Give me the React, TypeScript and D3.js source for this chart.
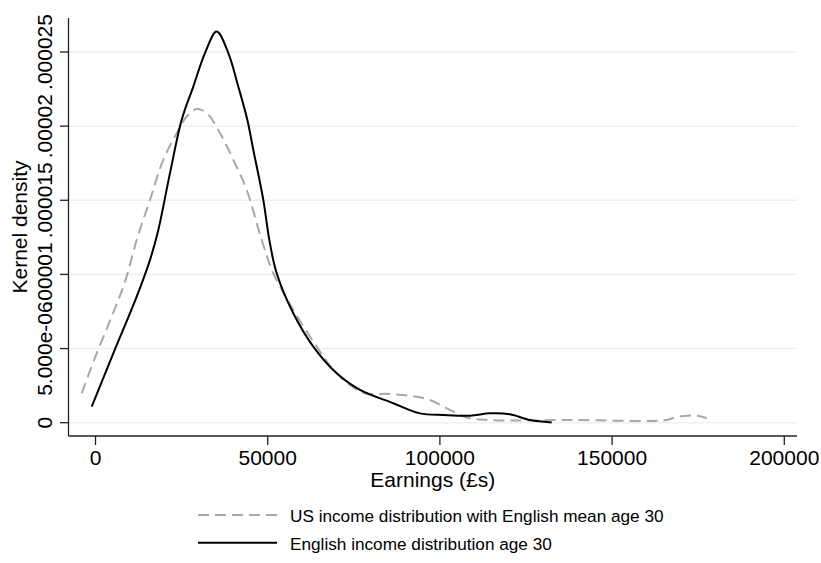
import React, { useEffect, useRef } from 'react';
import * as d3 from 'd3';

// English income distribution age 30 (solid)
const englishEarnings = [-1100, 5170, 11960, 15830, 18240, 21630, 25030, 28400, 31790, 35190, 38560, 41460, 44080, 45820, 48720, 50470, 52610, 57430, 63240, 70040, 76800, 86470, 94220, 100990, 108740, 114550, 120350, 126160, 132460];
const englishDensity = [1.08e-6, 4.68e-6, 8.5e-6, 1.098e-5, 1.3e-5, 1.683e-5, 2.043e-5, 2.267e-5, 2.493e-5, 2.638e-5, 2.493e-5, 2.267e-5, 2.043e-5, 1.84e-5, 1.503e-5, 1.233e-5, 1.008e-5, 7.38e-6, 5.13e-6, 3.33e-6, 2.21e-6, 1.31e-6, 6.3e-7, 5.2e-7, 4.7e-7, 6.3e-7, 5.7e-7, 1.8e-7, 2e-8];

// US income distribution with English mean age 30 (dashed)
const usEarnings = [-4010, 350, 4700, 8570, 11960, 15830, 19690, 23580, 26480, 29380, 32290, 36150, 40010, 43900, 48260, 51630, 57430, 64230, 70040, 77760, 85510, 93260, 97130, 102930, 107780, 114550, 137780, 165850, 168260, 171660, 174560, 177470];
const usDensity = [1.98e-6, 4.68e-6, 7.15e-6, 9.51e-6, 1.233e-5, 1.503e-5, 1.773e-5, 1.953e-5, 2.065e-5, 2.115e-5, 2.088e-5, 1.953e-5, 1.773e-5, 1.57e-5, 1.233e-5, 1.008e-5, 7.6e-6, 5.13e-6, 3.33e-6, 2.02e-6, 1.94e-6, 1.75e-6, 1.53e-6, 8.6e-7, 3.4e-7, 1.8e-7, 1.8e-7, 1.8e-7, 3.6e-7, 4.7e-7, 4.7e-7, 3.0e-7];

const xTicks = [0, 50000, 100000, 150000, 200000];
const yTicks = [0, 0.000005, 0.00001, 0.000015, 0.00002, 0.000025];
const yTickLabels = ['0', '5.000e-06', '.00001', '.000015', '.00002', '.000025'];
const legendLabels = ['US income distribution with English mean age 30', 'English income distribution age 30'];

const FONT = '"Liberation Sans", Arial, Helvetica, sans-serif';

const App = () => {
  const svgRef = useRef(null);

  useEffect(() => {
    const svg = d3.select(svgRef.current);
    svg.selectAll('*').remove();

    // plot region
    const left = 68.5, right = 797, top = 18, bottom = 436;

    const x = d3.scaleLinear().domain([0, 200000]).range([95.5, 784.3]);
    const y = d3.scaleLinear().domain([0, 0.000025]).range([422.7, 52]);

    // gridlines
    svg.append('g')
      .selectAll('line')
      .data(yTicks)
      .join('line')
      .attr('x1', left)
      .attr('x2', right)
      .attr('y1', d => y(d))
      .attr('y2', d => y(d))
      .attr('stroke', '#efefef')
      .attr('stroke-width', 1.5);

    // curves
    const line = d3.line()
      .x(d => x(d[0]))
      .y(d => y(d[1]))
      .curve(d3.curveCatmullRom.alpha(0.5));

    const usPts = usEarnings.map((e, i) => [e, usDensity[i]]);
    const engPts = englishEarnings.map((e, i) => [e, englishDensity[i]]);

    svg.append('path')
      .datum(usPts)
      .attr('fill', 'none')
      .attr('stroke', '#a8a8a8')
      .attr('stroke-width', 2)
      .attr('stroke-dasharray', '11 6')
      .attr('d', line);

    svg.append('path')
      .datum(engPts)
      .attr('fill', 'none')
      .attr('stroke', '#000')
      .attr('stroke-width', 2)
      .attr('d', line);

    // axes
    const axisColor = '#222';
    svg.append('line')
      .attr('x1', left).attr('x2', left)
      .attr('y1', top).attr('y2', bottom)
      .attr('stroke', axisColor).attr('stroke-width', 1.3);
    svg.append('line')
      .attr('x1', left).attr('x2', right)
      .attr('y1', bottom).attr('y2', bottom)
      .attr('stroke', axisColor).attr('stroke-width', 1.3);

    // y ticks + labels
    const yg = svg.append('g');
    yTicks.forEach((t, i) => {
      yg.append('line')
        .attr('x1', left - 8.5).attr('x2', left)
        .attr('y1', y(t)).attr('y2', y(t))
        .attr('stroke', axisColor).attr('stroke-width', 1.3);
      yg.append('text')
        .attr('transform', `translate(52,${y(t)}) rotate(-90)`)
        .attr('text-anchor', 'middle')
        .attr('font-family', FONT)
        .attr('font-size', 21)
        .text(yTickLabels[i]);
    });

    // x ticks + labels
    const xg = svg.append('g');
    xTicks.forEach(t => {
      xg.append('line')
        .attr('x1', x(t)).attr('x2', x(t))
        .attr('y1', bottom).attr('y2', bottom + 9)
        .attr('stroke', axisColor).attr('stroke-width', 1.3);
      xg.append('text')
        .attr('x', x(t))
        .attr('y', 465)
        .attr('text-anchor', 'middle')
        .attr('font-family', FONT)
        .attr('font-size', 21)
        .text(String(t));
    });

    // axis titles
    svg.append('text')
      .attr('x', (left + right) / 2)
      .attr('y', 487)
      .attr('text-anchor', 'middle')
      .attr('font-family', FONT)
      .attr('font-size', 21)
      .text('Earnings (£s)');

    svg.append('text')
      .attr('transform', `translate(27,${(top + bottom) / 2}) rotate(-90)`)
      .attr('text-anchor', 'middle')
      .attr('font-family', FONT)
      .attr('font-size', 21)
      .text('Kernel density');

    // legend
    const rows = [515, 542.7];
    const lg = svg.append('g');
    legendLabels.forEach((lab, i) => {
      lg.append('line')
        .attr('x1', 198).attr('x2', 277)
        .attr('y1', rows[i]).attr('y2', rows[i])
        .attr('stroke', i === 0 ? '#a8a8a8' : '#000')
        .attr('stroke-width', 2)
        .attr('stroke-dasharray', i === 0 ? '11 6' : null);
      lg.append('text')
        .attr('x', 290)
        .attr('y', rows[i] + 7)
        .attr('font-family', FONT)
        .attr('font-size', 17.2)
        .text(lab);
    });
  }, []);

  return (
    <svg
      ref={svgRef}
      width={821}
      height={563}
      style={{ position: 'absolute', left: 0, top: 0, background: '#fff' }}
    />
  );
};

export default App;
